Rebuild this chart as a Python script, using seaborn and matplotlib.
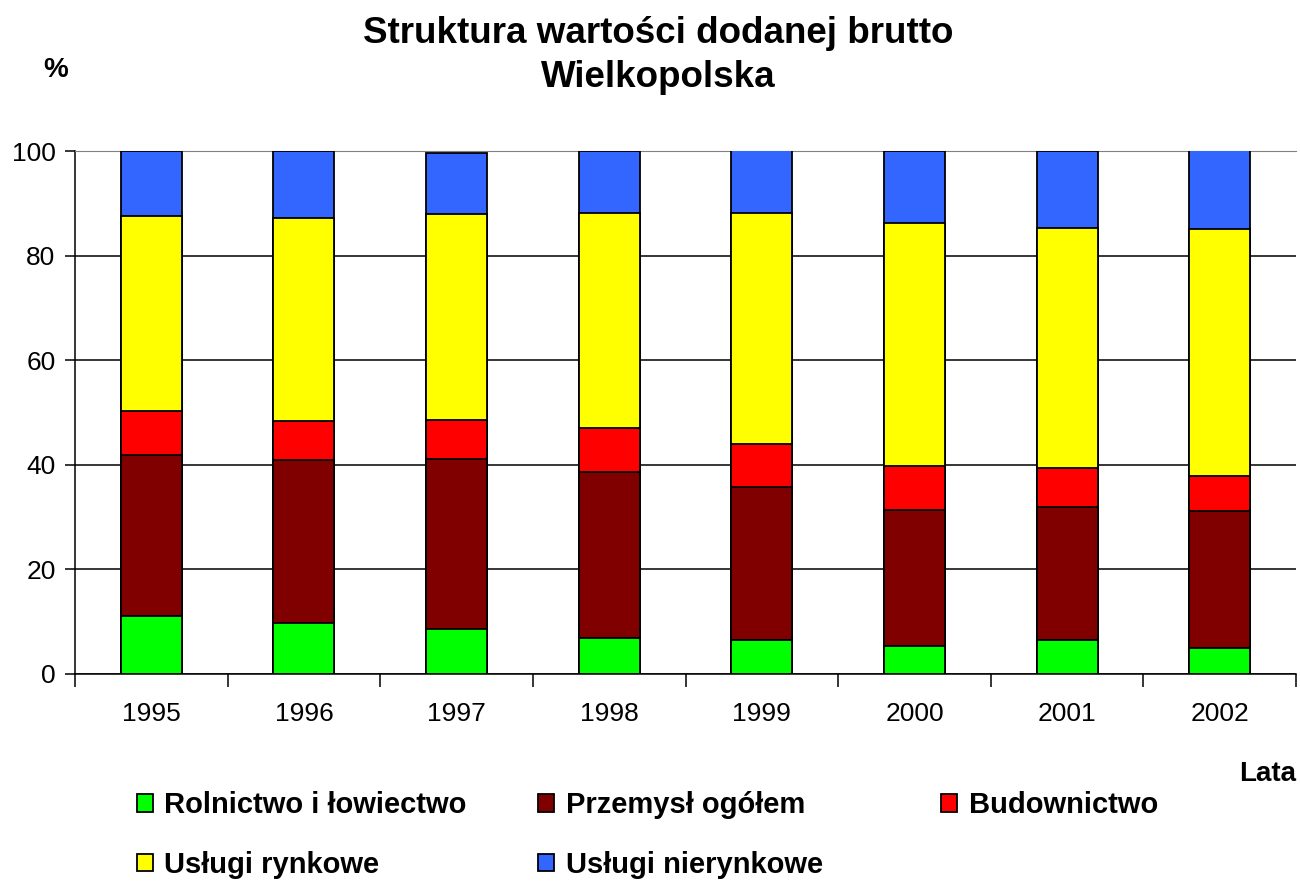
import matplotlib.pyplot as plt
import numpy as np
import seaborn as sns
from matplotlib.patches import Patch
from matplotlib.ticker import FixedLocator

# data (% of gross value added)
years = ['1995', '1996', '1997', '1998', '1999', '2000', '2001', '2002']
rolnictwo = [11.0, 9.8, 8.6, 6.9, 6.5, 5.3, 6.5, 5.0]
przemysl = [30.8, 31.2, 32.5, 31.8, 29.3, 26.1, 25.4, 26.2]
budownictwo = [8.4, 7.3, 7.5, 8.4, 8.1, 8.4, 7.4, 6.6]
uslugi_rynkowe = [37.3, 38.8, 39.4, 41.1, 44.3, 46.5, 45.9, 47.2]
uslugi_nierynkowe = [12.5, 12.9, 11.6, 11.8, 11.9, 13.7, 14.8, 15.1]

labels = ['Rolnictwo i łowiectwo', 'Przemysł ogółem', 'Budownictwo',
          'Usługi rynkowe', 'Usługi nierynkowe']
colors = ['#00ff00', '#800000', '#ff0000', '#ffff00', '#3366ff']

sns.set_style('white')
plt.rcParams['font.family'] = ['Liberation Sans', 'DejaVu Sans']
plt.rcParams['text.color'] = 'black'
plt.rcParams['xtick.color'] = 'black'
plt.rcParams['ytick.color'] = 'black'
plt.rcParams['axes.labelcolor'] = 'black'

fig = plt.figure(figsize=(13, 8.81), dpi=100)
ax = fig.add_axes([0.0577, 0.235, 0.9393, 0.5936])

# stacked bars: draw cumulative totals from the top down
series = [rolnictwo, przemysl, budownictwo, uslugi_rynkowe, uslugi_nierynkowe]
cum = np.cumsum(np.array(series), axis=0)
for i in range(len(series) - 1, -1, -1):
    sns.barplot(x=years, y=cum[i], color=colors[i], width=0.4,
                edgecolor='black', linewidth=1.3, saturation=1, ax=ax, zorder=3)

ax.set_xlim(-0.5, 7.5)
ax.set_ylim(0, 100)
ax.set_yticks([0, 20, 40, 60, 80, 100])
ax.grid(axis='y', color='black', linewidth=1.1, zorder=0)
ax.set_axisbelow(True)

ax.spines['right'].set_visible(False)
ax.spines['top'].set_color('#808080')
for s in ['left', 'bottom']:
    ax.spines[s].set_color('black')
    ax.spines[s].set_linewidth(1.1)

ax.tick_params(axis='y', which='major', direction='out', length=7, width=1.1,
               color='black', labelsize=19, pad=7, left=True)
ax.tick_params(axis='x', which='major', length=0, labelsize=19, pad=20)
ax.xaxis.set_minor_locator(FixedLocator(np.arange(-0.5, 8, 1)))
ax.tick_params(axis='x', which='minor', direction='out', length=9, width=1.1,
               color='black', bottom=True)
ax.set_xlabel('')
ax.set_ylabel('')

fig.text(0.506, 0.937, 'Struktura wartości dodanej brutto\nWielkopolska',
         ha='center', va='center', fontsize=26.5, fontweight='bold', linespacing=1.36)
fig.text(0.043, 0.921, '%', ha='center', va='center', fontsize=20, fontweight='bold')
fig.text(0.997, 0.122, 'Lata', ha='right', va='center', fontsize=20, fontweight='bold')

# legend: three fixed columns like the original
handles = [Patch(facecolor=c, edgecolor='black', linewidth=1.3) for c in colors]
columns = [([0, 3], 0.105), ([1, 4], 0.414), ([2], 0.724)]
for idx, xpos in columns:
    fig.legend([handles[i] for i in idx], [labels[i] for i in idx],
               loc='upper left', bbox_to_anchor=(xpos, 0.102), ncol=1, frameon=False,
               prop={'size': 21, 'weight': 'bold'}, handlelength=0.55,
               handleheight=0.55, handletextpad=0.4, labelspacing=1.09, borderpad=0,
               borderaxespad=0)

fig.savefig('out.png', dpi=100)
